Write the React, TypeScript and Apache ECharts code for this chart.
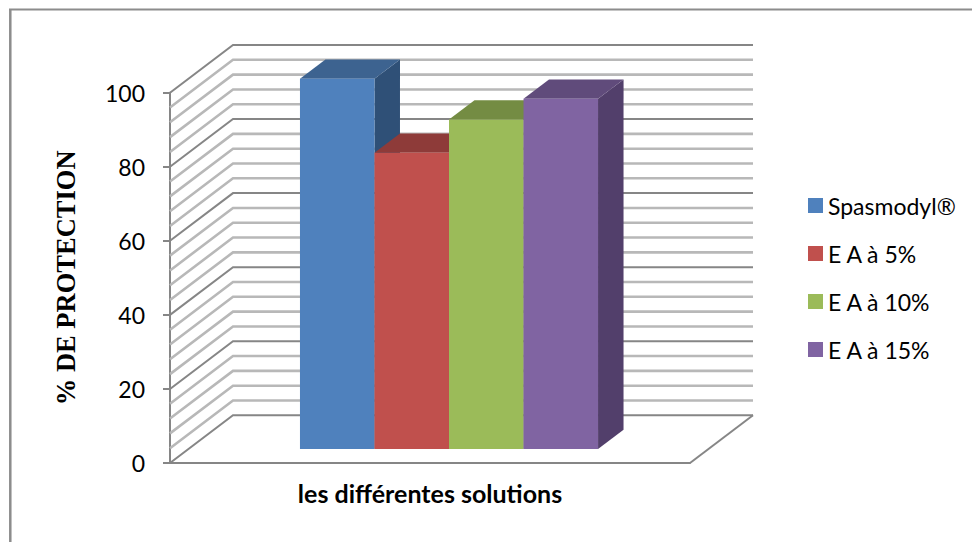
import React, { useEffect, useRef } from "react";
import * as echarts from "echarts";

const categories = ["les différentes solutions"];
const seriesNames = ["Spasmodyl®", "E A à 5%", "E A à 10%", "E A à 15%"];
const seriesValues = [100, 80, 89, 94.6];
const frontColors = ["#4F81BD", "#C0504D", "#9BBB59", "#8064A2"];
const topColors = ["#3D6390", "#8E3B39", "#748C43", "#604B7B"];
const sideColors = ["#2F5077", "#7A3230", "#647A39", "#523F6B"];
const wallTicks = [0, 4, 8, 12, 16, 20, 24, 28, 32, 36, 40, 44, 48, 52, 56, 60, 64, 68, 72, 76, 80, 84, 88, 92, 96, 100];

const WALL_DX = 63;
const WALL_DY = -47.7;
const BAR_PLANE_DX = 19;
const BAR_PLANE_DY = -14;
const BAR_DEPTH_DX = 25.5;
const BAR_DEPTH_DY = -19.3;
const BAR_WIDTH_SHARE = 0.1433;
const MAJOR = "#868686";
const MINOR = "#B8B8B8";
const FRAME = "#8C8C8C";

function wallLine(api: any) {
  const value = api.value(1);
  const c = api.coord([0, value]);
  const w = api.size([1, 0])[0];
  const left = c[0] - w / 2;
  const y = c[1];
  const major = value % 20 === 0;
  return {
    type: "polyline",
    shape: {
      points: [
        [left, y],
        [left + WALL_DX, y + WALL_DY],
        [left + w + WALL_DX, y + WALL_DY],
      ],
    },
    style: { stroke: major ? MAJOR : MINOR, lineWidth: major ? 2 : 2.6, fill: "none" },
  };
}

function floorEdge(_: any, api: any) {
  const c = api.coord([0, 0]);
  const w = api.size([1, 0])[0];
  const right = c[0] + w / 2;
  return {
    type: "line",
    shape: { x1: right, y1: c[1], x2: right + WALL_DX, y2: c[1] + WALL_DY },
    style: { stroke: MAJOR, lineWidth: 2 },
  };
}

function barItem(index: number) {
  return (_: any, api: any) => {
    const w = api.size([1, 0])[0] * BAR_WIDTH_SHARE;
    const base = api.coord([0, 0]);
    const top = api.coord([0, api.value(1)]);
    const x0 = base[0] + BAR_PLANE_DX + (index - 2) * w;
    const x1 = x0 + w;
    const yb = base[1] + BAR_PLANE_DY;
    const yt = top[1] + BAR_PLANE_DY;
    const dx = BAR_DEPTH_DX;
    const dy = BAR_DEPTH_DY;
    return {
      type: "group",
      children: [
        {
          type: "polygon",
          shape: { points: [[x1, yb], [x1 + dx, yb + dy], [x1 + dx, yt + dy], [x1, yt]] },
          style: { fill: sideColors[index] },
        },
        {
          type: "polygon",
          shape: { points: [[x0, yt], [x0 + dx, yt + dy], [x1 + dx, yt + dy], [x1, yt]] },
          style: { fill: topColors[index] },
        },
        {
          type: "rect",
          shape: { x: x0, y: yt, width: w, height: yb - yt },
          style: { fill: frontColors[index] },
        },
      ],
    };
  };
}

export default function App() {
  const ref = useRef<HTMLDivElement>(null);

  useEffect(() => {
    const chart = echarts.init(ref.current!, undefined, { renderer: "svg" });
    chart.setOption({
      animation: false,
      backgroundColor: "#FFFFFF",
      graphic: [
        {
          type: "line",
          z: -10,
          shape: { x1: 9, y1: 9.5, x2: 972, y2: 9.5 },
          style: { stroke: FRAME, lineWidth: 2 },
        },
        {
          type: "line",
          z: -10,
          shape: { x1: 10.3, y1: 9, x2: 10.3, y2: 542 },
          style: { stroke: FRAME, lineWidth: 2.5 },
        },
      ],
      legend: {
        left: 808,
        top: 194,
        padding: 0,
        orient: "vertical",
        itemWidth: 15,
        itemHeight: 15,
        itemGap: 25,
        icon: "rect",
        data: seriesNames,
        textStyle: { fontFamily: "Lato", fontSize: 23, color: "#000000" },
      },
      grid: { left: 170, top: 92.7, width: 520, height: 370.3, containLabel: false },
      xAxis: {
        type: "category",
        data: categories,
        axisTick: { show: false },
        axisLabel: { show: false },
        axisLine: { lineStyle: { color: MAJOR, width: 2 } },
        name: categories[0],
        nameLocation: "middle",
        nameGap: 17,
        nameTextStyle: { fontFamily: "Lato", fontWeight: "bold", fontSize: 25, color: "#000000" },
      },
      yAxis: {
        type: "value",
        min: 0,
        max: 100,
        interval: 20,
        splitLine: { show: false },
        axisLine: { show: true, lineStyle: { color: MAJOR, width: 2 } },
        axisTick: { show: true, length: 7, lineStyle: { color: MAJOR, width: 2 } },
        axisLabel: { fontFamily: "Lato", fontSize: 23, color: "#000000", margin: 25 },
        name: "% DE PROTECTION",
        nameLocation: "middle",
        nameGap: 91,
        nameTextStyle: { fontFamily: "Liberation Serif", fontWeight: "bold", fontSize: 26.5, color: "#000000" },
      },
      series: [
        {
          type: "custom",
          name: "wall",
          silent: true,
          z: 1,
          data: wallTicks.map((v) => [0, v]),
          encode: { x: 0, y: 1 },
          renderItem: (_: any, api: any) => wallLine(api),
        },
        {
          type: "custom",
          name: "floor",
          silent: true,
          z: 1,
          data: [[0, 0]],
          encode: { x: 0, y: 1 },
          renderItem: floorEdge,
        },
        ...seriesNames.map((name, i) => ({
          type: "custom",
          name,
          z: 2 + i,
          itemStyle: { color: frontColors[i] },
          data: [[0, seriesValues[i]]],
          encode: { x: 0, y: 1 },
          renderItem: barItem(i),
        })),
      ],
    });
    return () => chart.dispose();
  }, []);

  return <div ref={ref} style={{ position: "fixed", left: 0, top: 0, width: 972, height: 542 }} />;
}
